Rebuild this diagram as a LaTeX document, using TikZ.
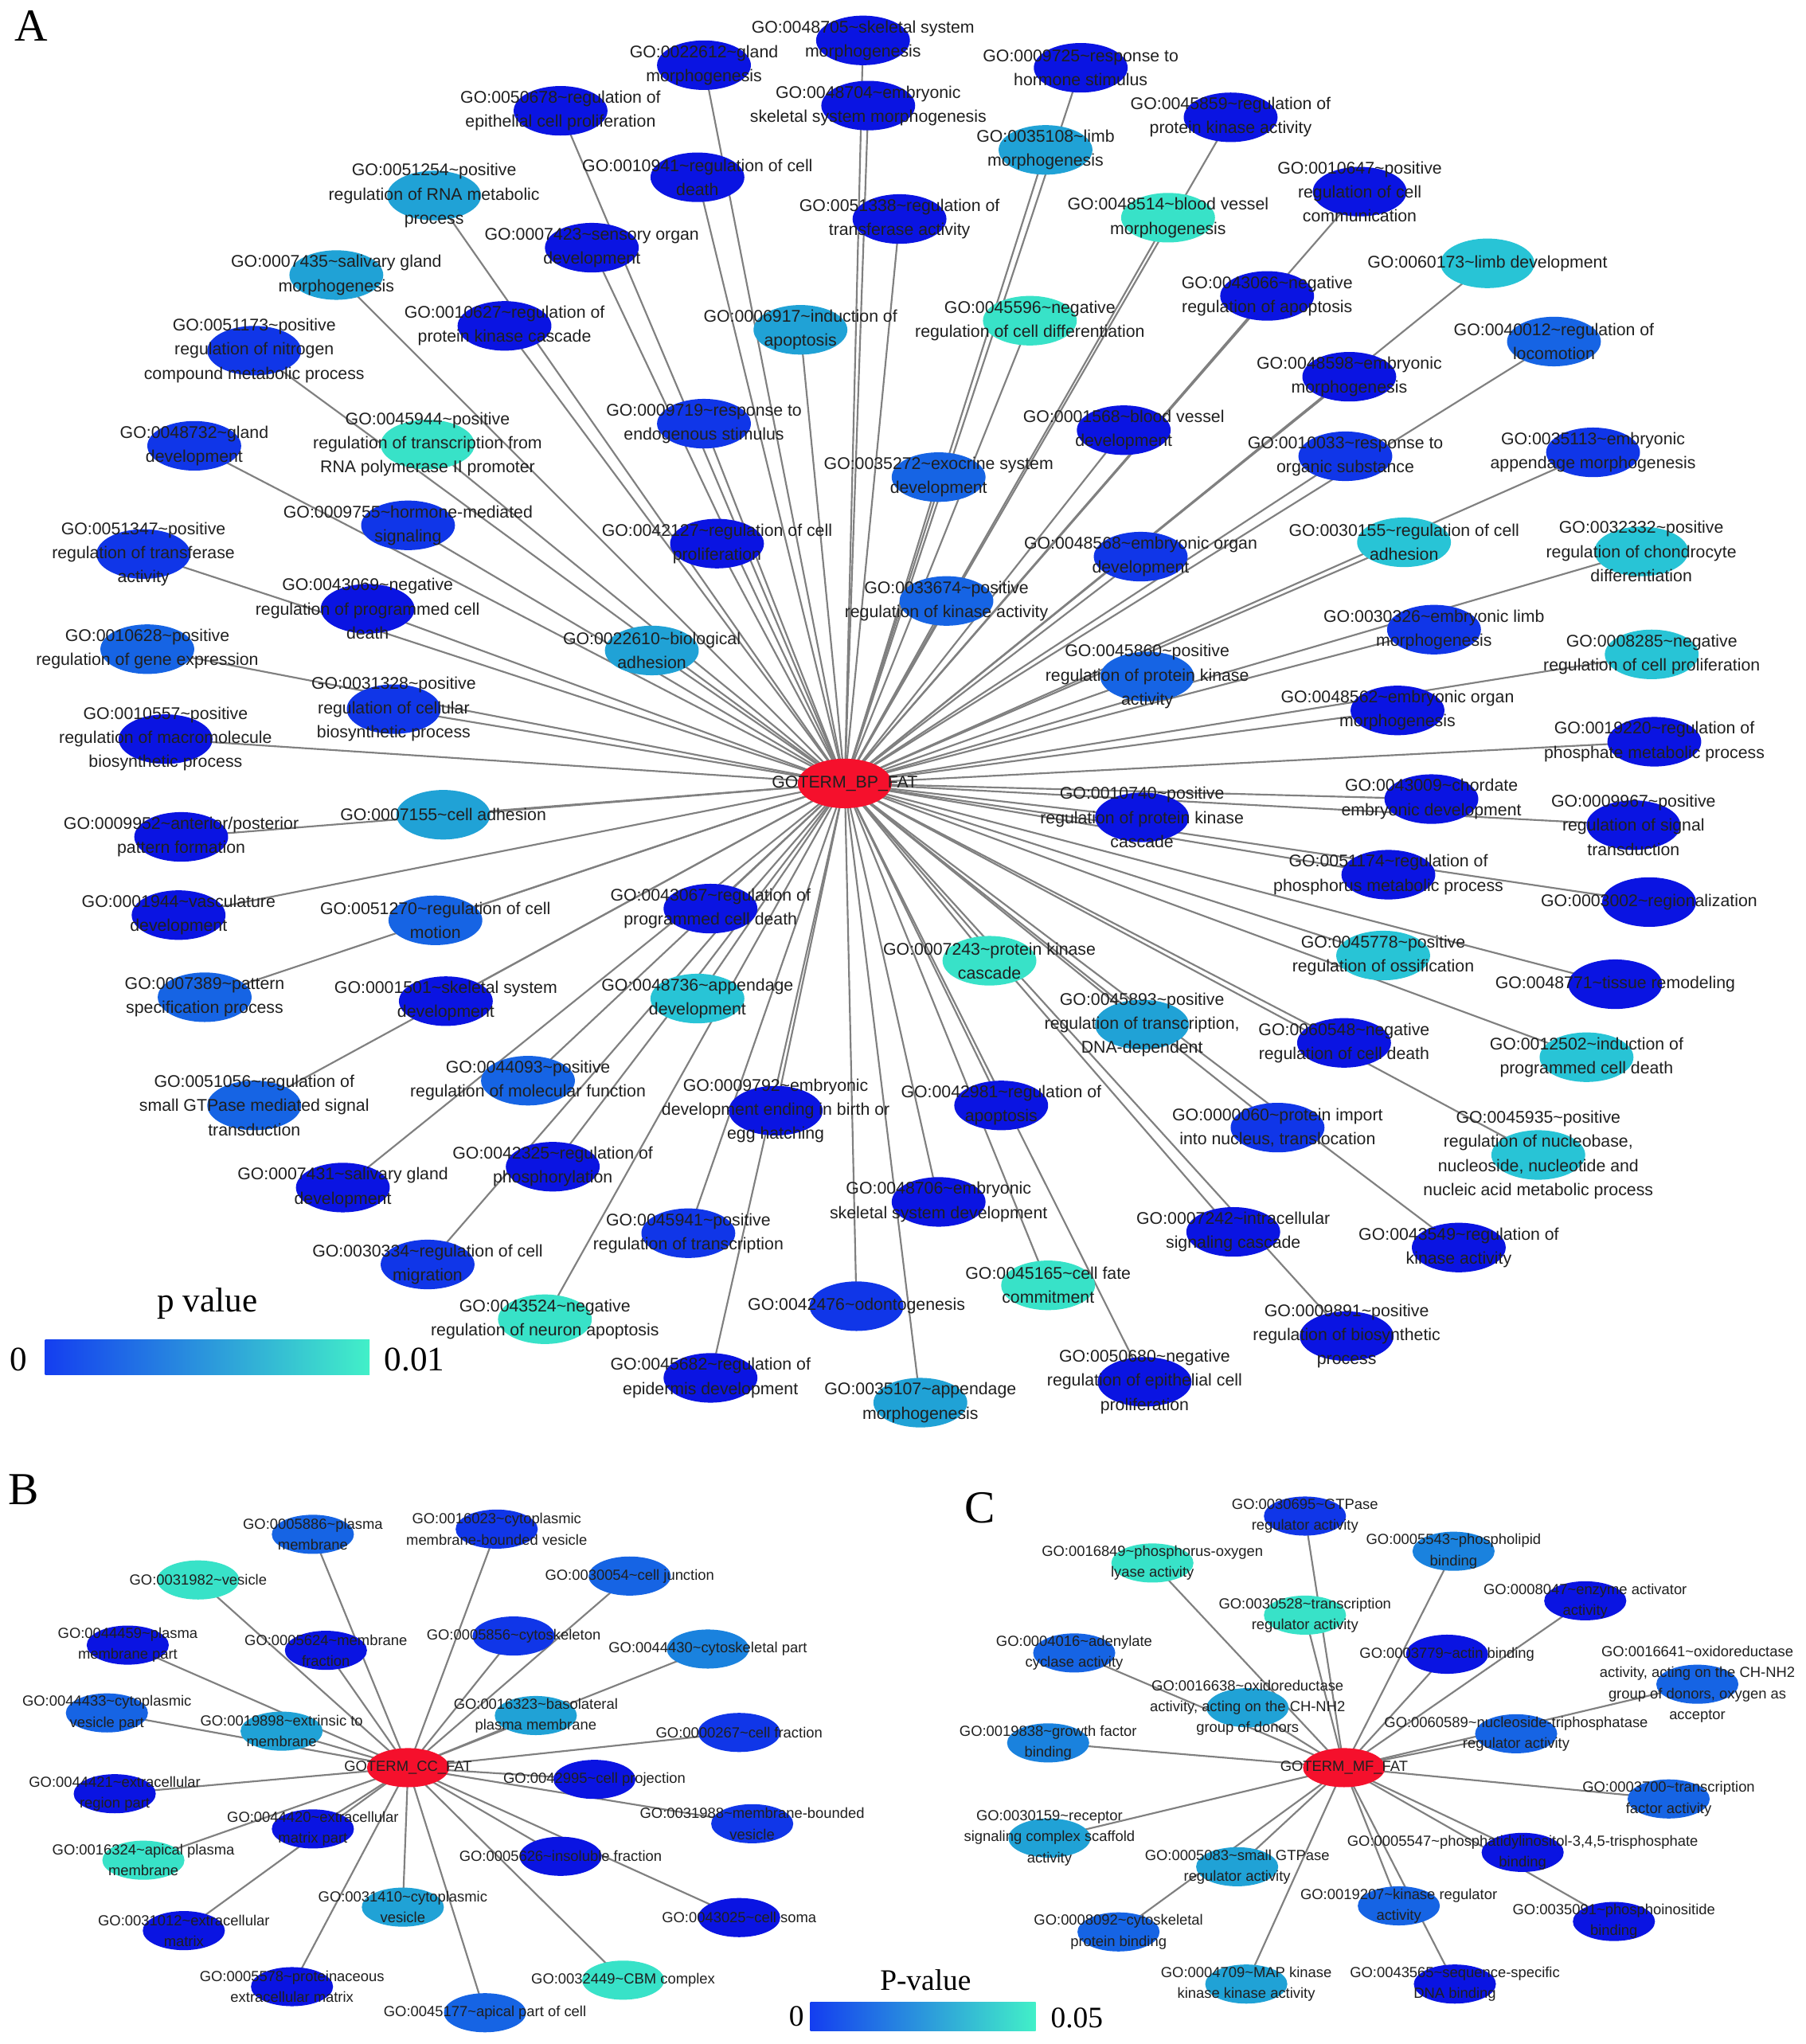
\documentclass[tikz,border=0pt]{standalone}
\usepackage{fontspec}
\setmainfont{Liberation Sans}
\newfontfamily\serifA{Liberation Serif}
\usetikzlibrary{shapes.geometric}
\pgfdeclarelayer{background}
\pgfdeclarelayer{front}
\pgfsetlayers{background,main,front}
\definecolor{c1}{RGB}{10,20,226}
\definecolor{c2}{RGB}{16,54,232}
\definecolor{c3}{RGB}{22,100,228}
\definecolor{c4}{RGB}{26,130,222}
\definecolor{c5}{RGB}{32,162,214}
\definecolor{c6}{RGB}{40,196,214}
\definecolor{c7}{RGB}{56,226,200}
\definecolor{hubred}{RGB}{245,16,44}
\definecolor{edgegray}{RGB}{128,128,128}
\definecolor{legl}{RGB}{20,62,240}
\definecolor{legr}{RGB}{66,240,200}
\newcommand\tld{\textasciitilde}
\newcommand\gonode[6]{%
  \node[#3ell,fill=#4] (#1) at (#5) {};%
  \begin{pgfonlayer}{background}\draw[linkline] (#2.center) -- (#1.center);\end{pgfonlayer}%
  \begin{pgfonlayer}{front}\node[#3lbl] (#1t) at (#1.center) {#6};\end{pgfonlayer}%
}
\tikzset{
  Aell/.style={ellipse,draw=none,inner sep=0pt,minimum width=1.44cm,minimum height=0.76cm},
  Bell/.style={ellipse,draw=none,inner sep=0pt,minimum width=1.26cm,minimum height=0.6cm},
  Albl/.style={align=center,inner sep=0pt,text=black!88,font=\fontsize{7.4}{10.5}\selectfont},
  Blbl/.style={align=center,inner sep=0pt,text=black!88,font=\fontsize{6.4}{9.1}\selectfont},
  linkline/.style={draw=edgegray,line width=0.75pt},
  legtxtA/.style={inner sep=0pt,text=black,font={\serifA\fontsize{15}{18}\selectfont}},
  legtxtB/.style={inner sep=0pt,text=black,font={\serifA\fontsize{13}{16}\selectfont}},
  panel/.style={inner sep=0pt,text=black,font={\serifA\fontsize{20}{24}\selectfont}},
  legbar/.style={inner sep=0pt,draw=none,left color=legl,right color=legr}
}
\begin{document}
\begin{tikzpicture}[x=0.02cm,y=-0.02cm]
\useasboundingbox (0,0) rectangle (1385,1568);
\begin{pgfonlayer}{background}\fill[white] (0,0) rectangle (1385,1568);\end{pgfonlayer}

% ---------------- Panel A ----------------
\node[panel] (pA) at (24,20) {A};
\node[Aell,fill=hubred] (hA) at (648,601) {};
\begin{pgfonlayer}{front}\node[Albl] (hAt) at (hA.center) {GOTERM\_BP\_FAT};\end{pgfonlayer}

\gonode{a1}{hA}{A}{c1}{662,31}{GO:0048705\tld skeletal system\\morphogenesis}
\gonode{a2}{hA}{A}{c1}{540,50}{GO:0022612\tld gland\\morphogenesis}
\gonode{a3}{hA}{A}{c1}{829,52}{GO:0009725\tld response to\\hormone stimulus}
\gonode{a4}{hA}{A}{c1}{430,85}{GO:0050678\tld regulation of\\epithelial cell proliferation}
\gonode{a5}{hA}{A}{c1}{666,81}{GO:0048704\tld embryonic\\skeletal system morphogenesis}
\gonode{a6}{hA}{A}{c1}{944,90}{GO:0045859\tld regulation of\\protein kinase activity}
\gonode{a7}{hA}{A}{c5}{802,115}{GO:0035108\tld limb\\morphogenesis}
\gonode{a8}{hA}{A}{c1}{535,136}{GO:0010941\tld regulation of cell\\death}
\gonode{a9}{hA}{A}{c5}{333,150}{GO:0051254\tld positive\\regulation of RNA metabolic\\process}
\gonode{a10}{hA}{A}{c1}{1043,147}{GO:0010647\tld positive\\regulation of cell\\communication}
\gonode{a11}{hA}{A}{c1}{690,168}{GO:0051338\tld regulation of\\transferase activity}
\gonode{a12}{hA}{A}{c7}{896,167}{GO:0048514\tld blood vessel\\morphogenesis}
\gonode{a13}{hA}{A}{c1}{454,190}{GO:0007423\tld sensory organ\\development}
\gonode{a14}{hA}{A}{c5}{258,211}{GO:0007435\tld salivary gland\\morphogenesis}
\gonode{a15}{hA}{A}{c6}{1141,202}{GO:0060173\tld limb development}
\gonode{a16}{hA}{A}{c1}{972,227}{GO:0043066\tld negative\\regulation of apoptosis}
\gonode{a17}{hA}{A}{c1}{387,250}{GO:0010627\tld regulation of\\protein kinase cascade}
\gonode{a18}{hA}{A}{c5}{614,253}{GO:0006917\tld induction of\\apoptosis}
\gonode{a19}{hA}{A}{c7}{790,246}{GO:0045596\tld negative\\regulation of cell differentiation}
\gonode{a20}{hA}{A}{c3}{1192,262}{GO:0040012\tld regulation of\\locomotion}
\gonode{a21}{hA}{A}{c2}{195,269}{GO:0051173\tld positive\\regulation of nitrogen\\compound metabolic process}
\gonode{a22}{hA}{A}{c1}{1035,289}{GO:0048598\tld embryonic\\morphogenesis}
\gonode{a23}{hA}{A}{c7}{328,341}{GO:0045944\tld positive\\regulation of transcription from\\RNA polymerase II promoter}
\gonode{a24}{hA}{A}{c2}{149,342}{GO:0048732\tld gland\\development}
\gonode{a25}{hA}{A}{c2}{540,325}{GO:0009719\tld response to\\endogenous stimulus}
\gonode{a26}{hA}{A}{c1}{862,330}{GO:0001568\tld blood vessel\\development}
\gonode{a27}{hA}{A}{c2}{1032,350}{GO:0010033\tld response to\\organic substance}
\gonode{a28}{hA}{A}{c2}{1222,347}{GO:0035113\tld embryonic\\appendage morphogenesis}
\gonode{a29}{hA}{A}{c3}{720,366}{GO:0035272\tld exocrine system\\development}
\gonode{a30}{hA}{A}{c2}{313,403}{GO:0009755\tld hormone-mediated\\signaling}
\gonode{a31}{hA}{A}{c2}{110,425}{GO:0051347\tld positive\\regulation of transferase\\activity}
\gonode{a32}{hA}{A}{c1}{550,417}{GO:0042127\tld regulation of cell\\proliferation}
\gonode{a33}{hA}{A}{c2}{875,427}{GO:0048568\tld embryonic organ\\development}
\gonode{a34}{hA}{A}{c6}{1077,416}{GO:0030155\tld regulation of cell\\adhesion}
\gonode{a35}{hA}{A}{c6}{1259,423}{GO:0032332\tld positive\\regulation of chondrocyte\\differentiation}
\gonode{a36}{hA}{A}{c1}{282,467}{GO:0043069\tld negative\\regulation of programmed cell\\death}
\gonode{a37}{hA}{A}{c3}{726,461}{GO:0033674\tld positive\\regulation of kinase activity}
\gonode{a38}{hA}{A}{c3}{113,498}{GO:0010628\tld positive\\regulation of gene expression}
\gonode{a39}{hA}{A}{c5}{500,499}{GO:0022610\tld biological\\adhesion}
\gonode{a40}{hA}{A}{c2}{1100,483}{GO:0030326\tld embryonic limb\\morphogenesis}
\gonode{a41}{hA}{A}{c6}{1267,502}{GO:0008285\tld negative\\regulation of cell proliferation}
\gonode{a42}{hA}{A}{c3}{880,519}{GO:0045860\tld positive\\regulation of protein kinase\\activity}
\gonode{a43}{hA}{A}{c2}{302,544}{GO:0031328\tld positive\\regulation of cellular\\biosynthetic process}
\gonode{a44}{hA}{A}{c1}{1072,545}{GO:0048562\tld embryonic organ\\morphogenesis}
\gonode{a45}{hA}{A}{c1}{127,567}{GO:0010557\tld positive\\regulation of macromolecule\\biosynthetic process}
\gonode{a46}{hA}{A}{c1}{1269,569}{GO:0019220\tld regulation of\\phosphate metabolic process}
\gonode{a47}{hA}{A}{c5}{340,625}{GO:0007155\tld cell adhesion}
\gonode{a48}{hA}{A}{c1}{876,627}{GO:0010740\tld positive\\regulation of protein kinase\\cascade}
\gonode{a49}{hA}{A}{c1}{1098,613}{GO:0043009\tld chordate\\embryonic development}
\gonode{a50}{hA}{A}{c1}{1253,633}{GO:0009967\tld positive\\regulation of signal\\transduction}
\gonode{a51}{hA}{A}{c1}{139,642}{GO:0009952\tld anterior/posterior\\pattern formation}
\gonode{a52}{hA}{A}{c1}{1065,671}{GO:0051174\tld regulation of\\phosphorus metabolic process}
\gonode{a53}{hA}{A}{c1}{1265,692}{GO:0003002\tld regionalization}
\gonode{a54}{hA}{A}{c1}{137,702}{GO:0001944\tld vasculature\\development}
\gonode{a55}{hA}{A}{c3}{334,706}{GO:0051270\tld regulation of cell\\motion}
\gonode{a56}{hA}{A}{c1}{545,697}{GO:0043067\tld regulation of\\programmed cell death}
\gonode{a57}{hA}{A}{c6}{1061,733}{GO:0045778\tld positive\\regulation of ossification}
\gonode{a58}{hA}{A}{c7}{759,737}{GO:0007243\tld protein kinase\\cascade}
\gonode{a59}{hA}{A}{c1}{1239,755}{GO:0048771\tld tissue remodeling}
\gonode{a60}{hA}{A}{c3}{157,765}{GO:0007389\tld pattern\\specification process}
\gonode{a61}{hA}{A}{c1}{342,768}{GO:0001501\tld skeletal system\\development}
\gonode{a62}{hA}{A}{c6}{535,766}{GO:0048736\tld appendage\\development}
\gonode{a63}{hA}{A}{c5}{876,786}{GO:0045893\tld positive\\regulation of transcription,\\DNA-dependent}
\gonode{a64}{hA}{A}{c1}{1031,800}{GO:0060548\tld negative\\regulation of cell death}
\gonode{a65}{hA}{A}{c6}{1217,811}{GO:0012502\tld induction of\\programmed cell death}
\gonode{a66}{hA}{A}{c3}{405,829}{GO:0044093\tld positive\\regulation of molecular function}
\gonode{a67}{hA}{A}{c3}{195,848}{GO:0051056\tld regulation of\\small GTPase mediated signal\\transduction}
\gonode{a68}{hA}{A}{c1}{595,852}{GO:0009792\tld embryonic\\development ending in birth or\\egg hatching}
\gonode{a69}{hA}{A}{c1}{768,848}{GO:0042981\tld regulation of\\apoptosis}
\gonode{a70}{hA}{A}{c2}{980,865}{GO:0000060\tld protein import\\into nucleus, translocation}
\gonode{a71}{hA}{A}{c6}{1180,886}{GO:0045935\tld positive\\regulation of nucleobase,\\nucleoside, nucleotide and\\nucleic acid metabolic process}
\gonode{a72}{hA}{A}{c1}{424,895}{GO:0042325\tld regulation of\\phosphorylation}
\gonode{a73}{hA}{A}{c1}{263,911}{GO:0007431\tld salivary gland\\development}
\gonode{a74}{hA}{A}{c1}{720,922}{GO:0048706\tld embryonic\\skeletal system development}
\gonode{a75}{hA}{A}{c1}{946,945}{GO:0007242\tld intracellular\\signaling cascade}
\gonode{a76}{hA}{A}{c2}{528,946}{GO:0045941\tld positive\\regulation of transcription}
\gonode{a77}{hA}{A}{c1}{1119,957}{GO:0043549\tld regulation of\\kinase activity}
\gonode{a78}{hA}{A}{c2}{328,970}{GO:0030334\tld regulation of cell\\migration}
\gonode{a79}{hA}{A}{c7}{804,986}{GO:0045165\tld cell fate\\commitment}
\gonode{a80}{hA}{A}{c2}{657,1002}{GO:0042476\tld odontogenesis}
\gonode{a81}{hA}{A}{c7}{418,1012}{GO:0043524\tld negative\\regulation of neuron apoptosis}
\gonode{a82}{hA}{A}{c1}{1033,1025}{GO:0009891\tld positive\\regulation of biosynthetic\\process}
\gonode{a83}{hA}{A}{c1}{545,1057}{GO:0045682\tld regulation of\\epidermis development}
\gonode{a84}{hA}{A}{c1}{878,1060}{GO:0050680\tld negative\\regulation of epithelial cell\\proliferation}
\gonode{a85}{hA}{A}{c5}{706,1076}{GO:0035107\tld appendage\\morphogenesis}

\node[legtxtA] (pvA) at (159,1000) {p value};
\node[legbar,minimum width=4.98cm,minimum height=0.54cm] (barA) at (159,1041) {};
\node[legtxtA] (zeroA) at (14,1043) {0};
\node[legtxtA] (maxA) at (318,1043) {0.01};

% ---------------- Panel B ----------------
\node[panel] (pB) at (18,1143) {B};
\node[Bell,fill=hubred] (hB) at (313,1356) {};
\begin{pgfonlayer}{front}\node[Blbl] (hBt) at (hB.center) {GOTERM\_CC\_FAT};\end{pgfonlayer}

\gonode{b1}{hB}{B}{c3}{240,1177}{GO:0005886\tld plasma\\membrane}
\gonode{b2}{hB}{B}{c2}{381,1173}{GO:0016023\tld cytoplasmic\\membrane-bounded vesicle}
\gonode{b3}{hB}{B}{c7}{152,1212}{GO:0031982\tld vesicle}
\gonode{b4}{hB}{B}{c3}{483,1209}{GO:0030054\tld cell junction}
\gonode{b5}{hB}{B}{c1}{98,1262}{GO:0044459\tld plasma\\membrane part}
\gonode{b6}{hB}{B}{c1}{250,1266}{GO:0005624\tld membrane\\fraction}
\gonode{b7}{hB}{B}{c2}{394,1255}{GO:0005856\tld cytoskeleton}
\gonode{b8}{hB}{B}{c4}{543,1265}{GO:0044430\tld cytoskeletal part}
\gonode{b9}{hB}{B}{c3}{82,1314}{GO:0044433\tld cytoplasmic\\vesicle part}
\gonode{b10}{hB}{B}{c5}{216,1328}{GO:0019898\tld extrinsic to\\membrane}
\gonode{b11}{hB}{B}{c5}{411,1316}{GO:0016323\tld basolateral\\plasma membrane}
\gonode{b12}{hB}{B}{c2}{567,1329}{GO:0000267\tld cell fraction}
\gonode{b13}{hB}{B}{c1}{88,1376}{GO:0044421\tld extracellular\\region part}
\gonode{b14}{hB}{B}{c1}{456,1365}{GO:0042995\tld cell projection}
\gonode{b15}{hB}{B}{c1}{240,1403}{GO:0044420\tld extracellular\\matrix part}
\gonode{b16}{hB}{B}{c2}{577,1399}{GO:0031988\tld membrane-bounded\\vesicle}
\gonode{b17}{hB}{B}{c7}{110,1427}{GO:0016324\tld apical plasma\\membrane}
\gonode{b18}{hB}{B}{c1}{430,1424}{GO:0005626\tld insoluble fraction}
\gonode{b19}{hB}{B}{c5}{309,1463}{GO:0031410\tld cytoplasmic\\vesicle}
\gonode{b20}{hB}{B}{c1}{141,1481}{GO:0031012\tld extracellular\\matrix}
\gonode{b21}{hB}{B}{c1}{567,1471}{GO:0043025\tld cell soma}
\gonode{b22}{hB}{B}{c1}{224,1524}{GO:0005578\tld proteinaceous\\extracellular matrix}
\gonode{b23}{hB}{B}{c7}{478,1519}{GO:0032449\tld CBM complex}
\gonode{b24}{hB}{B}{c3}{372,1544}{GO:0045177\tld apical part of cell}

% ---------------- Panel C ----------------
\node[panel] (pC) at (752,1157) {C};
\node[Bell,fill=hubred] (hC) at (1031,1356) {};
\begin{pgfonlayer}{front}\node[Blbl] (hCt) at (hC.center) {GOTERM\_MF\_FAT};\end{pgfonlayer}

\gonode{m1}{hC}{B}{c2}{1001,1163}{GO:0030695\tld GTPase\\regulator activity}
\gonode{m2}{hC}{B}{c4}{1115,1190}{GO:0005543\tld phospholipid\\binding}
\gonode{m3}{hC}{B}{c7}{884,1199}{GO:0016849\tld phosphorus-oxygen\\lyase activity}
\gonode{m4}{hC}{B}{c1}{1216,1228}{GO:0008047\tld enzyme activator\\activity}
\gonode{m5}{hC}{B}{c7}{1001,1239}{GO:0030528\tld transcription\\regulator activity}
\gonode{m6}{hC}{B}{c3}{824,1268}{GO:0004016\tld adenylate\\cyclase activity}
\gonode{m7}{hC}{B}{c1}{1110,1269}{GO:0003779\tld actin binding}
\gonode{m8}{hC}{B}{c3}{1302,1292}{GO:0016641\tld oxidoreductase\\activity, acting on the CH-NH2\\group of donors, oxygen as\\acceptor}
\gonode{m9}{hC}{B}{c5}{957,1310}{GO:0016638\tld oxidoreductase\\activity, acting on the CH-NH2\\group of donors}
\gonode{m10}{hC}{B}{c4}{804,1337}{GO:0019838\tld growth factor\\binding}
\gonode{m11}{hC}{B}{c3}{1163,1330}{GO:0060589\tld nucleoside-triphosphatase\\regulator activity}
\gonode{m12}{hC}{B}{c3}{1280,1380}{GO:0003700\tld transcription\\factor activity}
\gonode{m13}{hC}{B}{c5}{805,1410}{GO:0030159\tld receptor\\signaling complex scaffold\\activity}
\gonode{m14}{hC}{B}{c1}{1168,1421}{GO:0005547\tld phosphatidylinositol-3,4,5-trisphosphate\\binding}
\gonode{m15}{hC}{B}{c5}{949,1432}{GO:0005083\tld small GTPase\\regulator activity}
\gonode{m16}{hC}{B}{c3}{1073,1462}{GO:0019207\tld kinase regulator\\activity}
\gonode{m17}{hC}{B}{c1}{1238,1474}{GO:0035091\tld phosphoinositide\\binding}
\gonode{m18}{hC}{B}{c3}{858,1482}{GO:0008092\tld cytoskeletal\\protein binding}
\gonode{m19}{hC}{B}{c5}{956,1522}{GO:0004709\tld MAP kinase\\kinase kinase activity}
\gonode{m20}{hC}{B}{c1}{1116,1522}{GO:0043565\tld sequence-specific\\DNA binding}

\node[legtxtB] (pvB) at (710,1519) {P-value};
\node[legbar,minimum width=3.46cm,minimum height=0.44cm] (barB) at (708,1547) {};
\node[legtxtB] (zeroB) at (611,1547) {0};
\node[legtxtB] (maxB) at (826,1548) {0.05};
\end{tikzpicture}
\end{document}
